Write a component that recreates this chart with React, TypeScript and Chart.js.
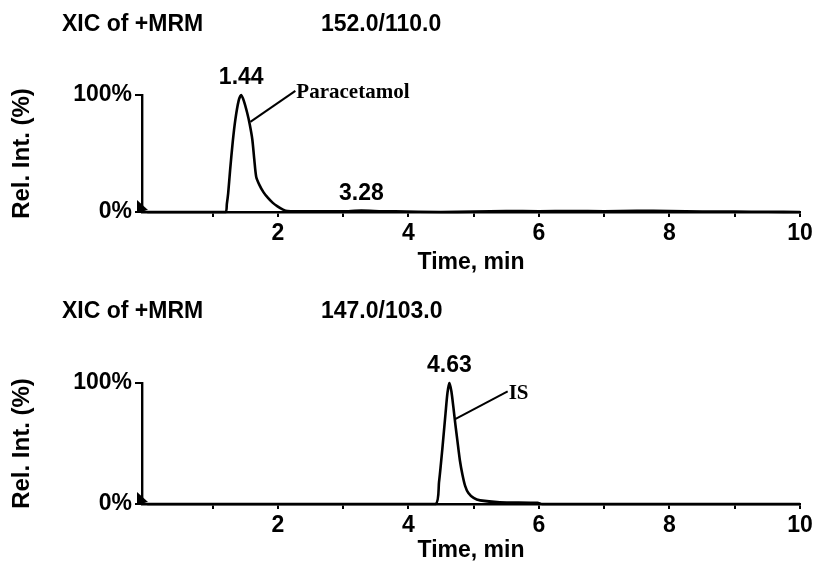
import React, { useEffect, useRef } from "react";
import { Chart, registerables } from "chart.js";

Chart.register(...registerables);

// ---------- data ----------
const xTickValues = [1, 2, 3, 4, 5, 6, 7, 8, 9, 10];
const xLabelledTicks = [2, 4, 6, 8, 10];
const yTickValues = [0, 100];
const yTickLabels = ["0%", "100%"];
const xAxisTitle = "Time, min";
const yAxisTitle = "Rel. Int. (%)";

const topTitle = "XIC of +MRM";
const topTransition = "152.0/110.0";
const topTime = [0, 1.0, 1.2, 1.22, 1.24, 1.27, 1.31, 1.35, 1.4, 1.44, 1.48, 1.53, 1.57, 1.61, 1.64, 1.67, 1.72, 1.78, 1.85, 1.92, 1.99, 2.08, 2.15, 2.5, 3.0, 3.28, 3.6, 3.8, 4.5, 5.0, 5.5, 6.0, 6.5, 7.0, 7.5, 8.0, 8.5, 9.0, 9.5, 10.0];
const topIntensity = [0, 0, 0, 7, 16, 36, 60, 79, 95, 100, 95, 85, 75, 62, 45, 30, 23, 17, 12, 8, 5, 2, 0.8, 0.5, 0.6, 1.2, 0.6, 0.5, 0, 0.3, 0.8, 0.6, 0.9, 0.7, 1.0, 0.9, 0.4, 0.3, 0.2, 0];
const topPeakTimes = [1.44, 3.28];
const topPeakHeights = [100, 1.2];
const topCompound = "Paracetamol";
const topCompoundAt = [1.58, 77];

const bottomTitle = "XIC of +MRM";
const bottomTransition = "147.0/103.0";
const bottomTime = [0, 4.0, 4.42, 4.47, 4.52, 4.57, 4.6, 4.63, 4.66, 4.69, 4.72, 4.75, 4.79, 4.83, 4.87, 4.92, 5.0, 5.1, 5.4, 5.98, 6.05, 7.0, 8.0, 9.0, 10.0];
const bottomIntensity = [0, 0, 0, 18, 45, 75, 92, 100, 93, 80, 66, 53, 36, 24, 15, 9, 5, 3, 1.5, 1, 0, 0, 0, 0, 0];
const bottomPeakTimes = [4.63];
const bottomPeakHeights = [100];
const bottomCompound = "IS";
const bottomCompoundAt = [4.71, 70];

const FONT = "'Liberation Sans', Arial, sans-serif";

type Panel = {
  title: string;
  transition: string;
  time: number[];
  intensity: number[];
  peakTimes: number[];
  peakHeights: number[];
  compound: string;
  compoundAt: number[];
  leader: number[];
  padTop: number;
  xAxisH: number;
  xTitlePad: number;
  titleY: number;
  dottedY: boolean;
};

const panels: Panel[] = [
  {
    title: topTitle, transition: topTransition, time: topTime, intensity: topIntensity,
    peakTimes: topPeakTimes, peakHeights: topPeakHeights, compound: topCompound, compoundAt: topCompoundAt,
    leader: [45, -31], padTop: 95, xAxisH: 70, xTitlePad: 6, titleY: 25, dottedY: true,
  },
  {
    title: bottomTitle, transition: bottomTransition, time: bottomTime, intensity: bottomIntensity,
    peakTimes: bottomPeakTimes, peakHeights: bottomPeakHeights, compound: bottomCompound, compoundAt: bottomCompoundAt,
    leader: [53, -28], padTop: 101, xAxisH: 60, xTitlePad: 0, titleY: 30, dottedY: false,
  },
];

function ChromPanel({ p }: { p: Panel }) {
  const ref = useRef<HTMLCanvasElement | null>(null);
  useEffect(() => {
    if (!ref.current) return;
    const overlay = {
      id: "overlay",
      afterDraw(chart: any) {
        const ctx = chart.ctx;
        const xs = chart.scales.x;
        const ys = chart.scales.y;
        ctx.save();
        ctx.fillStyle = "#000";
        ctx.strokeStyle = "#000";
        // header
        ctx.font = `bold 23px ${FONT}`;
        ctx.textBaseline = "middle";
        ctx.textAlign = "left";
        ctx.fillText(p.title, 62, p.titleY);
        ctx.fillText(p.transition, 321, p.titleY);
        // peak labels
        ctx.textAlign = "center";
        p.peakTimes.forEach((t, i) => {
          ctx.fillText(t.toFixed(2), xs.getPixelForValue(t), ys.getPixelForValue(p.peakHeights[i]) - 17);
        });
        // compound leader + label
        const sx = xs.getPixelForValue(p.compoundAt[0]);
        const sy = ys.getPixelForValue(p.compoundAt[1]);
        const ex = sx + p.leader[0];
        const ey = sy + p.leader[1];
        ctx.lineWidth = 2;
        ctx.beginPath();
        ctx.moveTo(sx, sy);
        ctx.lineTo(ex, ey);
        ctx.stroke();
        ctx.font = `bold 21px 'Liberation Serif', 'Times New Roman', serif`;
        ctx.textAlign = "left";
        ctx.fillText(p.compound, ex + 1, ey + 2);
        // pointer triangle at origin
        const ox = chart.chartArea.left;
        const oy = chart.chartArea.bottom;
        ctx.beginPath();
        ctx.moveTo(ox - 5, oy - 12);
        ctx.lineTo(ox + 6, oy - 2);
        ctx.lineTo(ox - 5, oy + 1);
        ctx.closePath();
        ctx.fill();
        ctx.restore();
      },
    };
    const chart = new Chart(ref.current, {
      type: "line",
      data: {
        datasets: [
          {
            data: p.time.map((t, i) => ({ x: t, y: p.intensity[i] })),
            borderColor: "#000",
            borderWidth: 2.6,
            pointRadius: 0,
            tension: 0.25,
            borderJoinStyle: "round",
            fill: false,
            clip: false as any,
          },
        ],
      },
      options: {
        animation: false,
        responsive: false,
        events: [],
        layout: { padding: { top: p.padTop, right: 19, left: 0, bottom: 0 } },
        plugins: { legend: { display: false }, tooltip: { enabled: false } },
        scales: {
          x: {
            type: "linear",
            min: -0.08,
            max: 10,
            afterBuildTicks: (s: any) => {
              s.ticks = xTickValues.map((v) => ({ value: v }));
            },
            afterFit: (s: any) => {
              s.height = p.xAxisH;
            },
            border: { color: "#000", width: 2.6 },
            grid: { drawOnChartArea: false, drawTicks: true, tickLength: 5, color: "#000", lineWidth: 2 },
            ticks: {
              color: "#000",
              padding: 3,
              maxRotation: 0,
              autoSkip: false,
              font: { family: FONT, size: 23, weight: "bold" },
              callback: (v: any) => (xLabelledTicks.includes(Number(v)) ? String(v) : ""),
            },
            title: {
              display: true,
              text: xAxisTitle,
              color: "#000",
              font: { family: FONT, size: 23, weight: "bold" },
              padding: { top: 0, bottom: p.xTitlePad },
            },
          },
          y: {
            type: "linear",
            min: 0,
            max: 100,
            afterBuildTicks: (s: any) => {
              s.ticks = yTickValues.map((v) => ({ value: v }));
            },
            afterFit: (s: any) => {
              s.width = 142;
            },
            border: { color: "#000", width: 2.4, dash: p.dottedY ? [2, 1] : [] },
            grid: { drawOnChartArea: false, drawTicks: true, tickLength: 7, color: "#000", lineWidth: 2 },
            ticks: {
              color: "#000",
              padding: 3,
              font: { family: FONT, size: 23, weight: "bold" },
              callback: (v: any) => yTickLabels[yTickValues.indexOf(Number(v))] ?? "",
            },
            title: {
              display: true,
              text: yAxisTitle,
              color: "#000",
              font: { family: FONT, size: 24, weight: "bold" },
              padding: { top: 8, bottom: 0 },
            },
          },
        },
      },
      plugins: [overlay],
    } as any);
    return () => chart.destroy();
  }, [p]);
  return <canvas ref={ref} width={819} height={282} style={{ display: "block", width: 819, height: 282 }} />;
}

export default function App() {
  return (
    <div style={{ position: "fixed", left: 0, top: 0, width: 819, height: 564, overflow: "hidden", background: "#fff" }}>
      {panels.map((p, i) => (
        <ChromPanel key={i} p={p} />
      ))}
    </div>
  );
}
